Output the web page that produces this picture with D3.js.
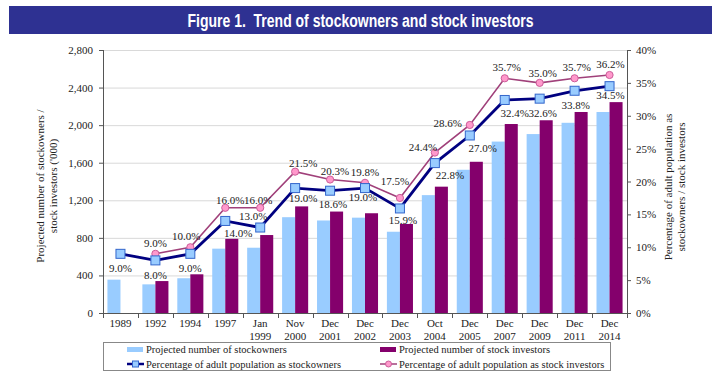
<!DOCTYPE html>
<html><head><meta charset="utf-8">
<script src="https://cdn.jsdelivr.net/npm/d3@7"></script>
<style>
html,body{margin:0;padding:0;background:#fff;}
svg{display:block;}
</style></head>
<body>
<svg id="c" width="720" height="383"></svg>
<script>
// ---- data ----
const categories = ["1989","1992","1994","1997","Jan 1999","Nov 2000","Dec 2001","Dec 2002","Dec 2003","Oct 2004","Dec 2005","Dec 2007","Dec 2009","Dec 2011","Dec 2014"];
const stockowners = [355,305,370,685,695,1020,985,1015,865,1255,1525,1825,1905,2025,2140];
const stockInvestors = [null,340,412,790,830,1135,1080,1062,948,1345,1610,2012,2052,2140,2245];
const pctOwners = [9.0,8.0,9.0,14.0,13.0,19.0,18.6,19.0,15.9,22.8,27.0,32.4,32.6,33.8,34.5];
const pctInvestors = [null,9.0,10.0,16.0,16.0,21.5,20.3,19.8,17.5,24.4,28.6,35.7,35.0,35.7,36.2];
const leftTicks = [0,400,800,1200,1600,2000,2400,2800];
const rightTicks = [0,5,10,15,20,25,30,35,40];
const seriesNames = ["Projected number of stockowners","Projected number of stock investors","Percentage of adult population as stockowners","Percentage of adult population as stock investors"];
// label nudges (dx, dy from point) for readability, as in the original
const ownerLabelNudge = [[0,14],[0,15],[0,14],[13,12],[-7,-12],[8,10],[3,13],[-2,9],[3,12],[15,12],[13,12.5],[10,13],[3,14],[1,14],[1,9]];
const investorLabelNudge = [null,[0,-11],[-4,-11],[5,-8],[-2,-8],[8,-8.5],[5,-8.5],[0,-11],[-5,-17],[-12,-6],[-22,-2],[2,-11.5],[3,-10],[2,-11.5],[1,-11]];

const C = {title:"#2e3192", owner:"#99ccff", inv:"#84006c", ownLine:"#000080", invLine:"#a0407a", invMark:"#ff99cc", invMarkStroke:"#cc5c99"};
const SERIF = "'Liberation Serif','Times New Roman',serif";

const svg = d3.select("#c");
const L = 103, R = 627, T = 50, B = 313;

// title banner
svg.append("rect").attr("x",9).attr("y",6).attr("width",703).attr("height",28).attr("fill",C.title);
svg.append("text").attr("x",360.5).attr("y",26.5).attr("text-anchor","middle")
  .attr("textLength",346).attr("lengthAdjust","spacingAndGlyphs")
  .style("font-family","'Liberation Sans',Arial,sans-serif")
  .style("font-weight","bold").style("font-size","18px").attr("fill","#fff")
  .text("Figure 1.\u00a0 Trend of stockowners and stock investors");

const x = d3.scaleBand().domain(categories).range([L,R]).paddingInner(0).paddingOuter(0);
const xs = d3.scaleBand().domain(["o","i"]).range([0,x.bandwidth()]).paddingInner(0).paddingOuter(0.34);
const y = d3.scaleLinear().domain([0,2800]).range([B,T]);
const yp = d3.scaleLinear().domain([0,40]).range([B,T]);

// gridlines
svg.append("g").selectAll("line").data(leftTicks.slice(1)).join("line")
  .attr("x1",L).attr("x2",R).attr("y1",d=>y(d)+0.5).attr("y2",d=>y(d)+0.5)
  .attr("stroke","#d9d9d9").attr("stroke-width",1);

// bars
const rows = categories.map((c,i)=>({c, o:stockowners[i], v:stockInvestors[i], po:pctOwners[i], pv:pctInvestors[i], i}));
svg.append("g").selectAll("rect").data(rows).join("rect")
  .attr("x",d=>x(d.c)+xs("o")).attr("width",xs.bandwidth())
  .attr("y",d=>y(d.o)).attr("height",d=>B-y(d.o)).attr("fill",C.owner);
svg.append("g").selectAll("rect").data(rows.filter(d=>d.v!=null)).join("rect")
  .attr("x",d=>x(d.c)+xs("i")).attr("width",xs.bandwidth())
  .attr("y",d=>y(d.v)).attr("height",d=>B-y(d.v)).attr("fill",C.inv);

// axes
const gl = svg.append("g").attr("transform",`translate(${L},0)`)
  .call(d3.axisLeft(y).tickValues(leftTicks).tickFormat(d3.format(",")).tickSize(4).tickPadding(6));
const gr = svg.append("g").attr("transform",`translate(${R},0)`)
  .call(d3.axisRight(yp).tickValues(rightTicks).tickFormat(d=>d+"%").tickSize(4).tickPadding(5));
[gl,gr].forEach(g=>{
  g.attr("font-family",null);
  g.selectAll("text").style("font-family",SERIF).style("font-size","11px").attr("fill","#222");
  g.selectAll("line").attr("stroke","#555");
  g.select(".domain").attr("stroke","#555").attr("d",`M0.5,${T}V${B}`);
});
// bottom axis line and ticks at band boundaries
svg.append("line").attr("x1",L).attr("x2",R+1).attr("y1",B+0.5).attr("y2",B+0.5).attr("stroke","#555");
const bounds = categories.map(c=>x(c)).concat([R]);
svg.append("g").selectAll("line").data(bounds).join("line")
  .attr("x1",d=>Math.round(d)+0.5).attr("x2",d=>Math.round(d)+0.5).attr("y1",B).attr("y2",B+5).attr("stroke","#555");
// category labels
const xl = svg.append("g").selectAll("text").data(categories).join("text")
  .attr("x",d=>x(d)+x.bandwidth()/2).attr("y",B+14).attr("text-anchor","middle")
  .style("font-family",SERIF).style("font-size","11px").attr("fill","#222");
xl.each(function(d){
  const parts = d.split(" ");
  const t = d3.select(this);
  parts.forEach((p,k)=>t.append("tspan").attr("x",x(d)+x.bandwidth()/2).attr("dy",k===0?0:12.5).text(p));
});

// lines
const cx = d=>x(d.c)+x.bandwidth()/2;
const lo = d3.line().x(cx).y(d=>yp(d.po));
const lv = d3.line().defined(d=>d.pv!=null).x(cx).y(d=>yp(d.pv));
svg.append("path").attr("d",lv(rows)).attr("fill","none").attr("stroke",C.invLine).attr("stroke-width",1.6);
svg.append("path").attr("d",lo(rows)).attr("fill","none").attr("stroke",C.ownLine).attr("stroke-width",2.8);
svg.append("g").selectAll("circle").data(rows.filter(d=>d.pv!=null)).join("circle")
  .attr("cx",cx).attr("cy",d=>yp(d.pv)).attr("r",3.6)
  .attr("fill",C.invMark).attr("stroke",C.invMarkStroke).attr("stroke-width",1);
svg.append("g").selectAll("rect").data(rows).join("rect")
  .attr("x",d=>cx(d)-4.5).attr("y",d=>yp(d.po)-4.5).attr("width",9).attr("height",9)
  .attr("fill",C.owner).attr("stroke","#3366cc").attr("stroke-width",1);

// value labels
svg.append("g").selectAll("text").data(rows).join("text")
  .attr("x",d=>cx(d)+ownerLabelNudge[d.i][0]).attr("y",d=>yp(d.po)+ownerLabelNudge[d.i][1]+4)
  .attr("text-anchor","middle").style("font-family",SERIF).style("font-size","11px").attr("fill","#222")
  .text(d=>d.po.toFixed(1)+"%");
svg.append("g").selectAll("text").data(rows.filter(d=>d.pv!=null)).join("text")
  .attr("x",d=>cx(d)+investorLabelNudge[d.i][0]).attr("y",d=>yp(d.pv)+investorLabelNudge[d.i][1]+4)
  .attr("text-anchor","middle").style("font-family",SERIF).style("font-size","11px").attr("fill","#222")
  .text(d=>d.pv.toFixed(1)+"%");

// axis titles
const lt = svg.append("text").attr("transform","translate(46,186) rotate(-90)").attr("text-anchor","middle")
  .style("font-family",SERIF).style("font-size","11px").attr("fill","#222");
lt.append("tspan").attr("x",0).attr("dy",-2).text("Projected number of stockowners /");
lt.append("tspan").attr("x",0).attr("dy",12.5).text("stock investors ('000)");
const rt = svg.append("text").attr("transform","translate(674,187) rotate(-90)").attr("text-anchor","middle")
  .style("font-family",SERIF).style("font-size","11px").attr("fill","#222");
rt.append("tspan").attr("x",0).attr("dy",-2).text("Percentage of adult population as");
rt.append("tspan").attr("x",0).attr("dy",12.5).text("stockowners / stock investors");

// legend
const lg = svg.append("g");
lg.append("rect").attr("x",103.5).attr("y",342.5).attr("width",507).attr("height",28).attr("fill","#fff").attr("stroke","#888");
const items = [
  {n:seriesNames[0], x:127, y:349.5, t:"bar", c:C.owner},
  {n:seriesNames[1], x:380, y:349.5, t:"bar", c:C.inv},
  {n:seriesNames[2], x:127, y:364, t:"sq"},
  {n:seriesNames[3], x:380, y:364, t:"ci"}
];
items.forEach(it=>{
  if(it.t==="bar"){
    lg.append("rect").attr("x",it.x).attr("y",it.y-2.5).attr("width",16).attr("height",5).attr("fill",it.c);
  } else if(it.t==="sq"){
    lg.append("line").attr("x1",it.x).attr("x2",it.x+17).attr("y1",it.y).attr("y2",it.y).attr("stroke",C.ownLine).attr("stroke-width",2.5);
    lg.append("rect").attr("x",it.x+5.5).attr("y",it.y-3).attr("width",6).attr("height",6).attr("fill",C.owner).attr("stroke","#3366cc");
  } else {
    lg.append("line").attr("x1",it.x).attr("x2",it.x+17).attr("y1",it.y).attr("y2",it.y).attr("stroke",C.invLine).attr("stroke-width",1.5);
    lg.append("circle").attr("cx",it.x+8.5).attr("cy",it.y).attr("r",3).attr("fill",C.invMark).attr("stroke",C.invMarkStroke);
  }
  lg.append("text").attr("x",it.x+19).attr("y",it.y+3.5).style("font-family",SERIF).style("font-size","10.5px").attr("fill","#222").text(it.n);
});
</script>
</body></html>
